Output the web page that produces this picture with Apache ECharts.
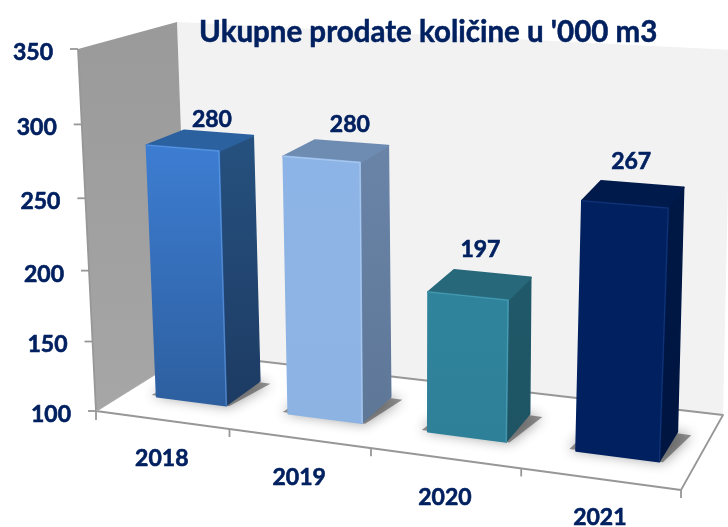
<!DOCTYPE html>
<html><head><meta charset="utf-8">
<style>html,body{margin:0;padding:0;background:#fff}#c{width:728px;height:527px}</style>
<script src="https://cdn.jsdelivr.net/npm/echarts@6/dist/echarts.min.js"></script>
</head><body><div id="c"></div>
<script>
const chartTitle = "Ukupne prodate količine u '000 m3";
const categories = ['2018', '2019', '2020', '2021'];
const values = [280, 280, 197, 267];
const yTicks = [100, 150, 200, 250, 300, 350];

const INK = '#002060';
const FONT = 'bold 23px Lato, "Open Sans", sans-serif';
const faceColors = [
  {front: ['#3D7DD2', '#2D5F9F'], side: ['#26517F', '#1D3B63'], top: '#2C619F', glow: 'rgba(110,165,235,0.55)'},
  {front: ['#8DB4E6', '#8DB3E3'], side: ['#6A84A8', '#5E7797'], top: '#6E8CB2', glow: 'rgba(190,215,245,0.55)'},
  {front: ['#2F849C', '#2E8098'], side: ['#20596A', '#1E5463'], top: '#27687A', glow: 'rgba(100,180,200,0.5)'},
  {front: ['#002060', '#002060'], side: ['#001845', '#001540'], top: '#001A4C', glow: 'rgba(40,80,150,0.4)'}
];
const labelNudge = [[-5, -13], [0, -18], [-10, -24], [-9, -22]];

// box corners on screen: u = along categories, v = up, w = into depth
const C = {
  p000: [96, 411], p100: [681, 490], p001: [189, 353], p101: [723, 415],
  p010: [78, 49], p110: [700, 91], p011: [177, 22], p111: [731, 50]
};
const warp = (t, a) => a * t / (1 + (a - 1) * t);
const lerp = (p, q, t) => [p[0] + (q[0] - p[0]) * t, p[1] + (q[1] - p[1]) * t];
function project(u, v, w) {
  const U = warp(u, 0.887), V = warp(v, 0.95);
  const b = lerp(lerp(C.p000, C.p100, U), lerp(C.p001, C.p101, U), w);
  const t = lerp(lerp(C.p010, C.p110, U), lerp(C.p011, C.p111, U), w);
  return lerp(b, t, V);
}
const W0 = 0.32, W1 = 0.72, BAR = 0.535, SHIFT = 0.003;

const chart = echarts.init(document.getElementById('c'), null, {renderer: 'canvas'});
const plotW = 728, plotH = 527;
const norm = pt => [pt[0] / plotW, 1 - pt[1] / plotH];
const poly = (points, style, z2) => ({type: 'polygon', shape: {points}, style, z2: z2 || 0, silent: true});
const line = (points, stroke, lineWidth, z2) => ({type: 'polyline', shape: {points}, style: {stroke, lineWidth, fill: 'none', lineJoin: 'round'}, z2: z2 || 0, silent: true});
const text = (s, x, y, align) => ({type: 'text', style: {text: s, x, y, fill: INK, stroke: INK, lineWidth: 0.6, font: FONT, align: align || 'center', verticalAlign: 'middle'}, z2: 20, silent: true});
const vgrad = (a, b) => new echarts.graphic.LinearGradient(0, 0, 0, 1, [{offset: 0, color: a}, {offset: 1, color: b}]);

function renderFrame(params, api) {
  const kids = [];
  const P = project;
  kids.push(poly([P(0,0,0), P(1,0,0), P(1,0,1), P(0,0,1)], {fill: '#FFFFFF'}));
  kids.push(poly([P(0,0,1), P(1,0,1), P(1,1,1), P(0,1,1)], {fill: '#F2F2F2'}));
  kids.push(poly([P(0,0,0), P(0,1,0), P(0,1,1), P(0,0,1)], {fill: vgrad('#9A9A9A', '#A6A6A6')}));
  kids.push(line([P(0,1,0), P(0,0,0), P(1,0,0), P(1,0,1), P(0,0,1)], '#979797', 1.8, 1));
  kids.push(line([P(0,0,0), P(0,0,1)], '#A8A8A8', 1.5, 1));
  yTicks.forEach(t => {
    const v = norm(api.coord([0, t]))[1];
    const p = P(0, v, 0);
    kids.push(line([p, [p[0] - 8, p[1]]], '#979797', 1.8, 1));
    kids.push(text(String(t), p[0] - 25, p[1] + 3.5, 'right'));
  });
  const band = api.size([1, 0])[0] / plotW;
  categories.forEach((c, i) => {
    const uc = norm(api.coord([i, yTicks[0]]))[0];
    const e = P(uc + band / 2, 0, 0);
    kids.push(line([e, [e[0], e[1] + 8]], '#979797', 1.8, 1));
    if (i === 0) { const s = P(0, 0, 0); kids.push(line([s, [s[0], s[1] + 9]], '#979797', 1.8, 1)); }
    const m = P(uc, 0, 0);
    kids.push(text(c, m[0], m[1] + 39));
  });
  return {type: 'group', children: kids};
}

function renderBar(params, api) {
  const i = api.value(0), val = api.value(1);
  const colors = faceColors[i];
  const tip = norm(api.coord([i, val])), base = norm(api.coord([i, yTicks[0]]));
  const half = api.size([1, 0])[0] / plotW * BAR / 2;
  const u0 = tip[0] - half + SHIFT, u1 = tip[0] + half + SHIFT, v0 = base[1], v1 = tip[1];
  const P = project;
  const front = [P(u0,v0,W0), P(u1,v0,W0), P(u1,v1,W0), P(u0,v1,W0)];
  const side = [P(u1,v0,W0), P(u1,v0,W1), P(u1,v1,W1), P(u1,v1,W0)];
  const top = [P(u0,v1,W0), P(u1,v1,W0), P(u1,v1,W1), P(u0,v1,W1)];
  const shadow = [P(u0 - 0.012,v0,W0 + 0.01), P(u1 + 0.006,v0,W0 - 0.005), P(u1 + 0.024,v0,W1 - 0.02), P(u0,v0,W1)];
  const labelAt = P(tip[0], v1, W1);
  const nudge = labelNudge[i];
  return {type: 'group', children: [
    poly(shadow, {fill: 'rgba(60,60,60,0.55)', shadowBlur: 13, shadowColor: 'rgba(50,50,50,0.9)'}, 2),
    poly(side, {fill: vgrad(colors.side[0], colors.side[1]), stroke: vgrad(colors.side[0], colors.side[1]), lineWidth: 1.5, lineJoin: 'round'}, 3),
    poly(top, {fill: colors.top, stroke: colors.top, lineWidth: 2, lineJoin: 'round'}, 3),
    poly(front, {fill: vgrad(colors.front[0], colors.front[1]), stroke: vgrad(colors.front[0], colors.front[1]), lineWidth: 2, lineJoin: 'round'}, 4),
    line([front[3], front[2], front[1]], colors.glow, 1.2, 5),
    text(String(val), labelAt[0] + nudge[0], labelAt[1] + nudge[1])
  ]};
}

chart.setOption({
  animation: false,
  backgroundColor: '#FFFFFF',
  title: {text: chartTitle, left: 194, top: 12, textStyle: {color: INK, fontFamily: 'Lato, "Open Sans", sans-serif', fontWeight: 'bold', fontSize: 29.5, textBorderColor: INK, textBorderWidth: 0.5}},
  grid: {left: 0, right: 0, top: 0, bottom: 0},
  xAxis: {type: 'category', data: categories, show: false},
  yAxis: {type: 'value', min: yTicks[0], max: yTicks[yTicks.length - 1], interval: 50, show: false},
  series: [
    {type: 'custom', name: 'frame', coordinateSystem: 'cartesian2d', clip: false, silent: true, z: 1, data: [[0, yTicks[0]]], renderItem: renderFrame},
    {type: 'custom', name: 'bars', coordinateSystem: 'cartesian2d', clip: false, silent: true, z: 2, encode: {x: 0, y: 1}, data: values.map((v, i) => [i, v]), renderItem: renderBar}
  ]
});
</script></body></html>
